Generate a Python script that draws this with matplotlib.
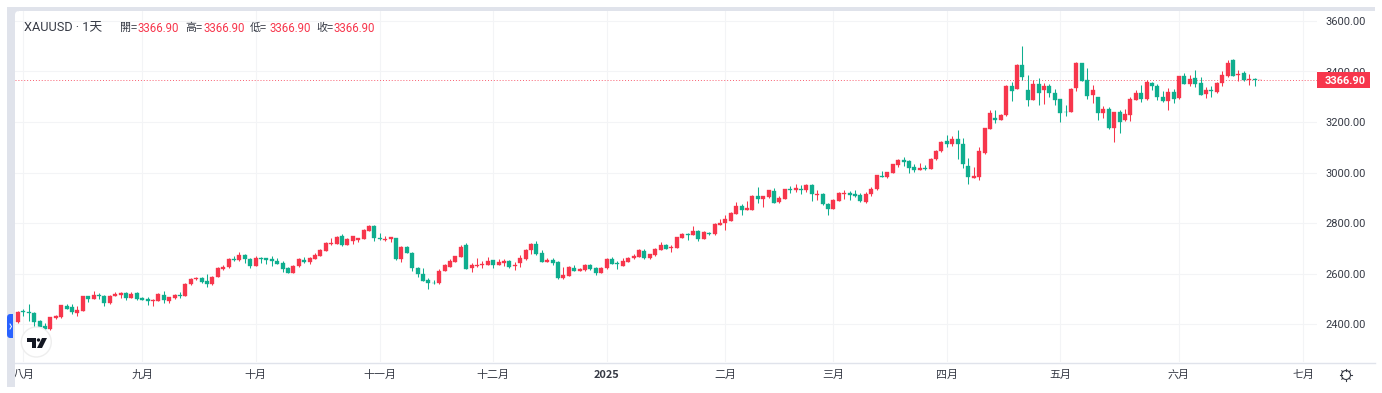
import matplotlib
matplotlib.use("Agg")
import matplotlib.pyplot as plt
from matplotlib.patches import Rectangle, Polygon, FancyBboxPatch, Ellipse
from matplotlib.lines import Line2D
from matplotlib.transforms import IdentityTransform

W, H = 1382, 393
UP = "#f7364c"
DOWN = "#0fae8f"
BAND = "#e0e3eb"
GRID = "#f3f4f6"
TEXT = "#363a45"

opens = [
    2408,2451,2449,2446,2412,2393,2380,2426,2429,2471,
    2467,2445,2454,2511,2502,2516,2511,2483,2513,2516,
    2525,2504,2523,2504,2499,2491,2494,2517,2494,2504,
    2517,2512,2560,2578,2582,2571,2558,2587,2620,2627,
    2660,2655,
    2674,2659,2632,2663,2661,2657,2650,2642,
    2621,2604,2629,2655,2646,2659,2671,2689,2718,2718,
    2749,2713,2730,2733,2739,2771,2788,2743,2732,2736,
    2741,2657,2705,2684,2621,2599,2575,2564,2562,2612,
    2628,2647,2667,2713,2621,2630,
    2633,2634,2653,2636,
    2642,2649,2629,2642,2657,2692,2717,2682,2646,2653,
    2646,2582,2592,2621,2611,2613,2634,2621,2604,2621,
    2657,2642,2632,2646,2661,2667,2688,2661,2674,2693,
    2713,2700,2703,2742,2758,2753,2770,2737,2763,2757,
    2793,
    2799,2809,2838,2866,2853,2853,2908,2896,2902,
    2927,2884,2895,2936,2932,2937,2931,2952,2912,2916,
    2877,2857,2887,2914,2920,2914,2912,2882,2916,2935,
    2987,2981,2999,3030,3049,3046,3022,3010,3019,3016,
    3052,3084,3125,3112,3133,
    3115,3026,2980,2981,3076,
    3174,3218,3208,3226,3343,3331,3426,3325,3288,3350,
    3327,3344,3315,3290,3240,3240,3333,3432,3365,3307,
    3298,3237,3250,3176,3240,3208,3228,3287,3315,3290,
    3356,3344,3300,3283,3319,3294,3382,3349,3376,3353,
    3311,3327,3317,3356,3382,3444,3385,3394,3366,3369,
    3366.9,
]
closes = [
    2450,2447,2444,2409,2389,2380,2428,2433,2475,2462,
    2447,2455,2511,2502,2515,2513,2484,2513,2519,2524,
    2504,2521,2502,2498,2491,2496,2519,2496,2507,2516,
    2511,2560,2578,2583,2569,2558,2589,2622,2628,2657,
    2655,2673,
    2658,2632,2663,2658,2655,2651,2639,2618,
    2604,2632,2657,2646,2663,2674,2692,2721,2722,2747,
    2713,2738,2749,2741,2774,2788,2742,2736,2737,2745,
    2657,2707,2683,2621,2597,2571,2564,2562,2611,2634,
    2650,2671,2707,2620,2634,2634,
    2638,2649,2634,2646,
    2650,2628,2634,2661,2695,2718,2678,2647,2654,2642,
    2583,2595,2625,2611,2618,2636,2618,2604,2624,2659,
    2639,2638,2649,2663,2670,2692,2661,2678,2699,2713,
    2699,2705,2745,2757,2755,2770,2738,2764,2757,2795,
    2799,
    2816,2842,2866,2853,2859,2908,2895,2906,2931,
    2881,2899,2935,2933,2939,2932,2952,2914,2915,2875,
    2855,2891,2919,2919,2912,2907,2887,2916,2935,2990,
    2982,3002,3034,3048,3043,3018,3010,3019,3015,3055,
    3086,3123,3112,3133,3113,
    3034,2982,2986,3084,3176,
    3237,3208,3229,3344,3324,3426,3377,3288,3350,3316,
    3344,3316,3288,3237,3238,3332,3432,3364,3303,3325,
    3236,3251,3175,3240,3201,3230,3290,3315,3290,3358,
    3341,3298,3283,3319,3290,3382,3352,3372,3352,3308,
    3325,3324,3356,3386,3434,3383,3390,3365,3372,3366,
    3366.9,
]
highs = [
    2453,2462,2479,2450,2417,2405,2429,2437,2476,2480,
    2480,2471,2512,2513,2532,2523,2515,2516,2528,2529,
    2528,2529,2528,2508,2507,2499,2523,2531,2509,2519,
    2529,2562,2585,2589,2589,2600,2593,2628,2635,2662,
    2670,2685,
    2678,2663,2672,2666,2664,2670,2661,2651,
    2628,2633,2663,2666,2668,2682,2697,2724,2741,2749,
    2759,2741,2750,2743,2776,2792,2792,2762,2749,2747,
    2743,2709,2709,2687,2625,2621,2582,2576,2617,2638,
    2657,2672,2714,2720,2643,2662,
    2651,2667,2655,2657,
    2659,2655,2647,2676,2696,2721,2729,2692,2663,2661,
    2651,2628,2629,2634,2622,2638,2638,2628,2626,2662,
    2667,2651,2663,2668,2678,2696,2696,2679,2701,2725,
    2716,2713,2746,2763,2762,2788,2775,2768,2767,2799,
    2816,
    2832,2845,2884,2875,2887,2912,2945,2908,2932,
    2941,2906,2937,2947,2954,2950,2956,2954,2931,2919,
    2881,2894,2924,2931,2927,2931,2919,2923,2944,2991,
    3005,3003,3036,3052,3060,3049,3034,3038,3030,3059,
    3089,3127,3147,3146,3168,
    3135,3056,3023,3101,3176,
    3246,3247,3233,3345,3358,3430,3501,3386,3366,3373,
    3353,3349,3329,3291,3267,3335,3436,3434,3415,3346,
    3300,3265,3261,3241,3248,3250,3298,3327,3347,3368,
    3360,3352,3324,3333,3329,3383,3393,3385,3406,3377,
    3337,3343,3360,3402,3446,3449,3406,3401,3391,3374,
    3366.9,
]
lows = [
    2405,2434,2415,2388,2384,2379,2379,2421,2426,2459,
    2442,2434,2453,2487,2500,2499,2474,2482,2511,2506,
    2496,2503,2498,2495,2475,2473,2492,2486,2486,2502,
    2506,2511,2557,2575,2565,2546,2554,2586,2615,2624,
    2651,2652,
    2643,2624,2630,2643,2638,2632,2638,2607,
    2603,2603,2628,2642,2638,2658,2670,2688,2714,2717,
    2711,2712,2718,2724,2738,2770,2730,2733,2729,2724,
    2654,2646,2682,2611,2589,2570,2541,2558,2561,2609,
    2625,2646,2666,2617,2607,2628,
    2621,2633,2621,2634,
    2630,2622,2614,2626,2655,2678,2674,2646,2645,2636,
    2580,2580,2591,2609,2609,2612,2614,2595,2603,2620,
    2638,2617,2630,2645,2658,2666,2657,2659,2672,2692,
    2697,2687,2701,2741,2734,2753,2730,2736,2753,2755,
    2792,
    2772,2807,2837,2834,2851,2851,2881,2863,2900,
    2878,2881,2894,2921,2924,2917,2924,2887,2892,2870,
    2834,2855,2886,2896,2892,2902,2884,2881,2906,2933,
    2981,2980,2998,3024,3026,2999,3003,3009,3011,3015,
    3051,3082,3102,3105,3055,
    3017,2956,2978,2970,3075,
    3172,3195,3207,3225,3283,3329,3366,3263,3287,3266,
    3270,3300,3269,3201,3224,3238,3324,3362,3291,3277,
    3208,3216,3171,3121,3156,3205,3204,3286,3279,3287,
    3327,3288,3278,3248,3274,3292,3349,3343,3340,3307,
    3295,3300,3315,3343,3380,3382,3364,3362,3347,3341,
    3366.9,
]
last_price = 3366.90
price_ticks = [2400, 2600, 2800, 3000, 3200, 3400, 3600]
month_bars = [1, 23, 44, 67, 88, 109, 131, 151, 172, 193, 215, 238]
month_labels = ["八月", "九月", "十月", "十一月", "十二月", "2025", "二月", "三月", "四月", "五月", "六月", "七月"]
legend_names = ["開", "高", "低", "收"]

assert len(opens) == len(closes) == len(highs) == len(lows)

CJK = ["Noto Sans CJK TC", "Roboto", "DejaVu Sans"]
NUM = ["Roboto", "DejaVu Sans"]
HEAD = ["Roboto", "Noto Sans CJK TC", "DejaVu Sans"]

fig = plt.figure(figsize=(W / 100, H / 100), dpi=100, facecolor="white")


def fx(px):
    return px / W


def fy(py):
    return 1 - py / H


# plot frame in picture pixels
L, R, T, B = 15, 1317, 11, 362
ax = fig.add_axes([fx(L), fy(B), fx(R - L), fy(T) - fy(B)])
px_per_bar = 5.4
first_bar_px = 18
ax.set_xlim((L - first_bar_px) / px_per_bar, (R - first_bar_px) / px_per_bar)
units_per_px = 200 / 50.56
y2400 = 324.3
ax.set_ylim(2400 - (B - y2400) * units_per_px, 2400 + (y2400 - T) * units_per_px)

for s in ax.spines.values():
    s.set_visible(False)
ax.set_xticks(month_bars)
ax.set_yticks(price_ticks)
ax.set_xticklabels([])
ax.set_yticklabels([])
ax.tick_params(length=0)
ax.grid(True, color=GRID, lw=0.8, zorder=0)
ax.set_axisbelow(True)

xs = list(range(len(opens)))
cols = [UP if c >= o else DOWN for o, c in zip(opens, closes)]
ax.vlines(xs, lows, highs, colors=cols, lw=0.75, zorder=2)
ax.bar(xs, [abs(c - o) for o, c in zip(opens, closes)],
       bottom=[min(o, c) for o, c in zip(opens, closes)],
       width=0.72, color=cols, edgecolor=cols, lw=0.25, zorder=3)
ax.axhline(last_price, color=UP, lw=0.7, ls=(0, (1, 2)), alpha=0.8, zorder=1)

# chrome: bands and axis line
Z = 20
fig.add_artist(Line2D([fx(15), fx(1375)], [fy(362.5)] * 2, color=BAND, lw=1.0, zorder=Z))
fig.add_artist(Rectangle((fx(7), fy(387)), fx(8), fy(7) - fy(387), transform=fig.transFigure, color=BAND, lw=0, zorder=Z + 0.5))
fig.add_artist(Rectangle((fx(7), fy(11)), fx(1368), fy(7) - fy(11), transform=fig.transFigure, color=BAND, lw=0, zorder=Z + 0.5))

# rounded inner top-left corner of the pane
fig.add_artist(Rectangle((fx(15), fy(15)), fx(4), fy(11) - fy(15), transform=fig.transFigure, color=BAND, lw=0, zorder=Z + 0.6))
fig.add_artist(FancyBboxPatch((15, H - 20), 6, 9, boxstyle="round,pad=0,rounding_size=4",
                              transform=IdentityTransform(), fc="white", ec="none", lw=0, zorder=Z + 0.7))

# blue tab, rounded on its left side only
tab = FancyBboxPatch((7, H - 338), 12, 24, boxstyle="round,pad=0,rounding_size=3.5",
                     transform=IdentityTransform(), fc="#2962ff", ec="none", lw=0, zorder=Z + 1)
fig.add_artist(tab)
tab.set_clip_path(Rectangle((7, H - 338), 5.5, 24, transform=IdentityTransform()))
fig.add_artist(Line2D([fx(10), fx(11.5), fx(10)], [fy(324), fy(326.5), fy(329)], color="white", lw=0.7, zorder=Z + 2))

# logo
fig.add_artist(Ellipse((fx(36.3), fy(342)), 30 / W, 30 / H, transform=fig.transFigure, fc="white", ec="#eeeeee", lw=1.0, zorder=Z + 1))
logo = "#131722"
for pts in [
    [(27, 338), (36, 338), (36, 348), (32, 348), (32, 342), (27, 342)],
    [(42, 338), (47, 338), (42, 348), (37, 348)],
]:
    fig.add_artist(Polygon([(fx(a), fy(b)) for a, b in pts], closed=True, transform=fig.transFigure, color=logo, lw=0, zorder=Z + 2))
fig.add_artist(Ellipse((fx(38.5), fy(340)), 3.4 / W, 3.4 / H, transform=fig.transFigure, color=logo, lw=0, zorder=Z + 2))

# price labels
for p in price_ticks:
    y = y2400 - (p - 2400) / units_per_px
    fig.text(fx(1366), fy(y), f"{p:.2f}", ha="right", va="center_baseline", family=NUM, fontsize=7.9, color=TEXT, zorder=Z)

# last price tag
tag_y = y2400 - (last_price - 2400) / units_per_px
fig.add_artist(Rectangle((fx(1317), fy(tag_y + 8)), fx(53), fy(tag_y - 8) - fy(tag_y + 8), transform=fig.transFigure, color=UP, lw=0, zorder=Z + 3))
fig.text(fx(1366), fy(tag_y), f"{last_price:.2f}", ha="right", va="center_baseline", family=NUM, fontsize=7.9, color="white", weight="bold", zorder=Z + 4)

# month labels
for b, lab in zip(month_bars, month_labels):
    x = first_bar_px + px_per_bar * b
    is_year = lab.isdigit()
    fig.text(fx(x), fy(374), lab, ha="center", va="center_baseline", family=CJK, fontsize=7.9, color=TEXT,
             weight="bold" if is_year else "normal", zorder=Z)

# header
fig.text(fx(24), fy(26.5), "XAUUSD · 1天", ha="left", va="center_baseline", family=HEAD, fontsize=9.2, color=TEXT, zorder=Z)
for name, nx, vx in zip(legend_names, [120, 185, 250, 316], [138, 204, 269, 334]):
    fig.text(fx(nx), fy(26.5), name + "=", ha="left", va="center_baseline", family=CJK, fontsize=7.9, color=TEXT, zorder=Z)
    fig.text(fx(vx), fy(26.5), f"{last_price:.2f}", ha="left", va="center_baseline", family=NUM, fontsize=8.3, color=UP, zorder=Z)

# gear icon
gx, gy = 1346, 375
fig.add_artist(Ellipse((fx(gx), fy(gy)), 9 / W, 9 / H, transform=fig.transFigure, fc="white", ec=TEXT, lw=0.8, zorder=Z))
for dx, dy in [(0, 6), (0, -6), (6, 0), (-6, 0), (4.2, 4.2), (-4.2, 4.2), (4.2, -4.2), (-4.2, -4.2)]:
    fig.add_artist(Line2D([fx(gx + dx * 0.75), fx(gx + dx)], [fy(gy + dy * 0.75), fy(gy + dy)], color=TEXT, lw=0.8, zorder=Z))

fig.savefig("out.png", dpi=100)
